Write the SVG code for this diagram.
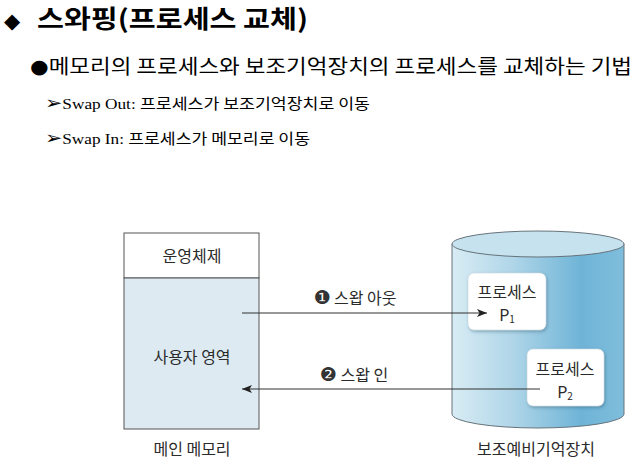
<svg xmlns="http://www.w3.org/2000/svg" width="636" height="466" viewBox="0 0 636 466">
<style>
.ko{font-family:"Noto Sans CJK KR","Noto Sans",sans-serif;fill:#222}
.hd{font-family:"Noto Sans CJK KR","DejaVu Sans",sans-serif;fill:#000}
.sf{font-family:"Liberation Serif",serif}
.sym{font-family:"DejaVu Sans",sans-serif}
.lbl{font-family:"Noto Sans CJK KR","DejaVu Sans",sans-serif;font-size:16px;fill:#2a2a2a;text-anchor:middle}
.edge{stroke:#333;stroke-width:1.2;fill:none}
.pbox{fill:#fff;stroke:#c8d6de;stroke-width:0.6}
</style>
<defs>
<marker id="ah" viewBox="0 0 10 10" refX="10" refY="5" markerWidth="10" markerHeight="10" markerUnits="userSpaceOnUse" orient="auto">
<path d="M0,1 L10,5 L0,9 L2.5,5 Z" fill="#222"/>
</marker>
<linearGradient id="cyl" x1="0" y1="0" x2="1" y2="0">
<stop offset="0" stop-color="#d8ecf4"/>
<stop offset="0.35" stop-color="#b0d6e8"/>
<stop offset="0.75" stop-color="#6fb4d7"/>
<stop offset="1" stop-color="#7fbddb"/>
</linearGradient>
<filter id="sh" x="-20%" y="-20%" width="140%" height="140%">
<feDropShadow dx="1" dy="1.5" stdDeviation="1.5" flood-color="#2a5870" flood-opacity="0.45"/>
</filter>
</defs>

<g id="header">
<text class="sym" x="4" y="28" font-size="21" fill="#000">◆</text>
<text class="hd" x="37" y="28" font-size="25" font-weight="bold" textLength="271" lengthAdjust="spacingAndGlyphs">스와핑(프로세스 교체)</text>
<text class="hd" x="30" y="74" font-size="20" textLength="602" lengthAdjust="spacingAndGlyphs"><tspan class="sym" font-size="19" dy="-1">●</tspan><tspan dy="1">메모리의 프로세스와 보조기억장치의 프로세스를 교체하는 기법</tspan></text>
<text class="hd" x="45" y="109" font-size="15" textLength="325" lengthAdjust="spacingAndGlyphs"><tspan class="sym" font-size="18">➢</tspan><tspan class="sf" font-size="15">Swap Out: </tspan>프로세스가 보조기억장치로 이동</text>
<text class="hd" x="45" y="144" font-size="15" textLength="265" lengthAdjust="spacingAndGlyphs"><tspan class="sym" font-size="18">➢</tspan><tspan class="sf" font-size="15">Swap In: </tspan>프로세스가 메모리로 이동</text>
</g>

<g id="main-memory">
<rect x="124" y="233" width="135" height="45" fill="#fff" stroke="#555" stroke-width="1"/>
<rect x="124" y="278" width="135" height="151" fill="#ddeaf2" stroke="#555" stroke-width="1"/>
<text class="lbl" x="192" y="262">운영체제</text>
<text class="lbl" x="192" y="363">사용자 영역</text>
<text class="lbl" x="192" y="455">메인 메모리</text>
</g>

<g id="secondary-storage">
<path d="M452,244 L452,414 A86,14 0 0 0 624,414 L624,244 Z" fill="url(#cyl)" stroke="#66737b" stroke-width="1"/>
<ellipse cx="538" cy="244" rx="86" ry="13" fill="#c6e2ee" stroke="#66737b" stroke-width="1"/>
<text class="lbl" x="536" y="455">보조예비기억장치</text>
</g>

<g id="process-p1">
<rect class="pbox" x="468" y="273" width="78" height="57" rx="6" filter="url(#sh)"/>
<text class="lbl" x="507" y="298" font-size="15">프로세스</text>
<text class="lbl" x="507" y="321" font-size="16">P<tspan font-size="10" dy="2">1</tspan></text>
</g>

<g id="process-p2">
<rect class="pbox" x="527" y="349" width="77" height="57" rx="6" filter="url(#sh)"/>
<text class="lbl" x="565" y="375" font-size="15">프로세스</text>
<text class="lbl" x="565" y="398" font-size="16">P<tspan font-size="10" dy="2">2</tspan></text>
</g>

<g id="connectors">
<line class="edge" x1="242" y1="313" x2="487" y2="313" marker-end="url(#ah)"/>
<line class="edge" x1="540" y1="389" x2="242" y2="389" marker-end="url(#ah)"/>
<text class="lbl" x="355" y="304"><tspan class="sym" font-size="19" fill="#333">❶</tspan> 스왑 아웃</text>
<text class="lbl" x="354" y="381"><tspan class="sym" font-size="19" fill="#333">❷</tspan> 스왑 인</text>
</g>
</svg>
